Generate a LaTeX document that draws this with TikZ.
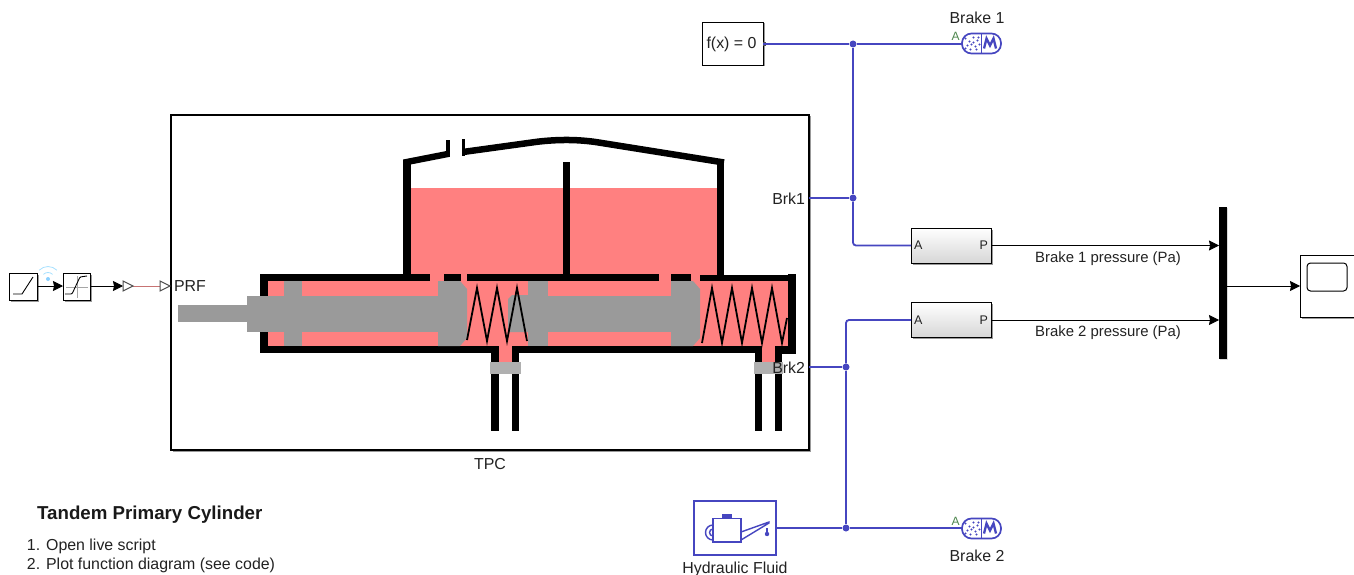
\documentclass[tikz,border=0pt]{standalone}
\usepackage{fontspec}
\setmainfont{Liberation Sans}
\usetikzlibrary{arrows.meta,shadows,calc}
\definecolor{wirec}{HTML}{4646C0}
\definecolor{fluidc}{HTML}{FF8080}
\definecolor{greyc}{HTML}{9A9A9A}
\definecolor{capc}{HTML}{B0B0B0}
\definecolor{labelc}{HTML}{222222}
\tikzset{
  x=1pt,y=-1pt,
  lbl/.style={text=labelc,font=\fontsize{15.9}{18}\selectfont,inner sep=0pt,outer sep=0pt},
  sigl/.style={text=labelc,font=\fontsize{14.9}{17}\selectfont,inner sep=0pt,outer sep=0pt},
  blk/.style={draw=black,fill=white,line width=.9pt,inner sep=0pt,outer sep=0pt,
     drop shadow={shadow xshift=1.5pt,shadow yshift=-1.5pt,opacity=.4,fill=black}},
  sensor/.style={blk,top color=white,bottom color=black!16},
  wire/.style={draw=wirec,line width=1.8pt,rounded corners=3pt},
  sig/.style={draw=black,line width=.9pt,-{Stealth[length=10pt,width=10pt,inset=1pt]}},
  jdot/.style={circle,fill=wirec,inner sep=0pt,minimum size=7pt},
  wallc/.style={fill=black,draw=none},
  fluid/.style={fill=fluidc,draw=none},
  grey/.style={fill=greyc,draw=none},
  spring/.style={draw=black,line width=1.8pt,line join=miter},
  pill/.style={draw=wirec,fill=white,line width=1.7pt,rounded corners=9.5pt,inner sep=0pt,outer sep=0pt,minimum width=39pt,minimum height=20pt},
  opentri/.style={draw=black!70,fill=white,line width=1pt},
  brakeicon/.pic={
    \draw[wirec,line width=1.6pt] (0,-9.5) -- (0,9.5);
    \draw[wirec,line width=2.3pt,line join=miter] (2.5,5) -- (5,-5) -- (8.5,2) -- (12,-5) -- (14.5,5);
    \foreach \a/\b in {-16/-5,-12/-2,-8/-6,-4/-3,-14/2,-10/1,-6/3,-2/1,-16/5,-11/6,-5/6,-8/-1,-3/-6}
      \fill[wirec] (\a,\b) circle (1.05pt);
  }
}
\begin{document}
\begin{tikzpicture}
\useasboundingbox (0,0) rectangle (1354,575);

% TPC block
\node[blk,minimum width=638pt,minimum height=335pt,line width=1.7pt] (tpc) at (490,282.5) {};

% reservoir fluid
\fill[fluid] (411,188) rectangle (717,275);
% cylinder fluid
\fill[fluid] (268,281) rectangle (788,346);
\fill[fluid] (430,274) rectangle (444,282);
\fill[fluid] (461,274) rectangle (467,282);
\fill[fluid] (659,274) rectangle (671,282);
\fill[fluid] (691,274) rectangle (700,282);
\fill[fluid] (499,346) rectangle (512,362);
\fill[fluid] (762,346) rectangle (775,362);

% reservoir walls
\fill[wallc] (403,161) rectangle (411,275);
\fill[wallc] (717,161) rectangle (724,275);
\fill[wallc] (563,162) rectangle (570,275);
\fill[wallc] (403,159.5) -- (449,150.5) -- (449,157) -- (403,166) -- cycle;
\fill[wallc] (446,140) rectangle (450,157);
\fill[wallc] (462,139) rectangle (465,156);
\draw[black,line width=6.5pt,line join=round,rounded corners=14pt] (463,152) -- (550,140) -- (583,140) -- (724,162.5);

% cylinder walls
\fill[wallc] (260,274) rectangle (430,281);
\fill[wallc] (444,274) rectangle (461,281);
\fill[wallc] (467,274) rectangle (659,281);
\fill[wallc] (671,274) rectangle (691,281);
\fill[wallc] (700,275) rectangle (788,281);
\fill[wallc] (788,274) rectangle (796,354);
\fill[wallc] (260,274) rectangle (268,353);
\fill[wallc] (260,346) rectangle (499,353);
\fill[wallc] (512,346) rectangle (762,353);
\fill[wallc] (775,346) rectangle (796,354);

% pistons
\fill[grey] (178,305) rectangle (247,322);
\fill[grey] (247,296) rectangle (440,332);
\fill[grey] (284,281) rectangle (302,346);
\fill[grey] (438,281) -- (460,281) -- (467,289) -- (467,338) -- (460,346) -- (438,346) -- cycle;
\fill[grey] (508,299) -- (512,295) -- (530,295) -- (530,332) -- (508,332) -- cycle;
\fill[grey] (528,281) rectangle (548,346);
\fill[grey] (548,296) rectangle (672,332);
\fill[grey] (671,281) -- (693,281) -- (700,289) -- (700,338) -- (693,346) -- (671,346) -- cycle;

% springs
\draw[spring] (467,340) -- (477,288) -- (487,341) -- (497,288) -- (507,341) -- (517,288) -- (527,341);
\draw[spring] (702,343) -- (712,288) -- (722,343) -- (732,288) -- (742,343) -- (752,288) -- (762,343) -- (772,288) -- (782,343) -- (787,318);

% ports
\fill[wallc] (491,353) rectangle (499,431);
\fill[wallc] (512,353) rectangle (519,431);
\fill[wallc] (755,353) rectangle (762,431);
\fill[wallc] (775,353) rectangle (782,431);
\fill[capc] (490,362) rectangle (521,374);
\fill[capc] (754,362) rectangle (783,374);

% port labels of TPC
\node[lbl,anchor=west] (prf) at (174,286) {PRF};
\node[lbl,anchor=east] (brk1) at (805,198.5) {Brk1};
\node[lbl,anchor=east] (brk2) at (805,367.5) {Brk2};
\node[lbl] (tpclbl) at (490,464) {TPC};

% input chain
\node[blk,minimum width=28pt,minimum height=27pt] (ramp) at (23,286.5) {};
\node[blk,minimum width=27pt,minimum height=27pt] (sat) at (76.5,286.5) {};
\draw[black,line width=.9pt] (13,294) -- (22,294) -- (33,277);
\draw[black!35,line width=.7pt] (66,287) -- (88,287) (77,276) -- (77,298);
\draw[black,line width=.9pt,rounded corners=1pt] (65,294) -- (72,294) -- (80,277) -- (87,276);
\fill[blue!40!cyan!45] (48,279) circle (2pt);
\draw[blue!35!cyan!35,line width=.8pt] (43.4,274.4) arc (225:315:6.5);
\draw[blue!35!cyan!35,line width=.8pt] (39.2,270.2) arc (225:315:12.5);
\coordinate (g1) at (123,286);
\coordinate (g2) at (133,286);
\coordinate (f1) at (160,286);
\coordinate (f2) at (170,286);
\draw[sig] (ramp.east |- 0,286) -- (sat.west |- 0,286);
\draw[sig] (sat.east |- 0,286) -- (g1);
\draw[draw=red!60!black!55,line width=1pt] (g2) -- (f1);
\draw[opentri] (123,281) -- (133,286) -- (123,291) -- cycle;
\draw[opentri] (160,281) -- (170,286) -- (160,291) -- cycle;

% solver
\node[blk,minimum width=61pt,minimum height=43pt] (fx) at (732.5,43.5) {};
\node[lbl] (fxt) at (731.5,44) {f(x) = 0};
\fill[black!70] (763,42) rectangle (766,46);

% brakes
\node[pill] (b1) at (981.5,43.5) {};
\node[lbl] (b1t) at (977,17.5) {Brake 1};
\node[lbl,text=black!45!green!40!gray,font=\fontsize{12}{14}\selectfont] (b1a) at (955.5,36.5) {A};
\path (b1) pic {brakeicon};
\node[pill] (b2) at (981.5,528.5) {};
\node[lbl] (b2t) at (977,555.5) {Brake 2};
\node[lbl,text=black!45!green!40!gray,font=\fontsize{12}{14}\selectfont] (b2a) at (955.5,521) {A};
\path (b2) pic {brakeicon};

% sensors
\node[sensor,minimum width=80pt,minimum height=35pt] (p1) at (951,245.5) {};
\node[sensor,minimum width=80pt,minimum height=35pt] (p2) at (951,320) {};
\node[lbl,font=\fontsize{12.5}{14}\selectfont,anchor=west] (p1a) at (914,245.5) {A};
\node[lbl,font=\fontsize{12.5}{14}\selectfont,anchor=east] (p1p) at (988,245.5) {P};
\node[lbl,font=\fontsize{12.5}{14}\selectfont,anchor=west] (p2a) at (914,320) {A};
\node[lbl,font=\fontsize{12.5}{14}\selectfont,anchor=east] (p2p) at (988,320) {P};

% hydraulic fluid
\node[draw=wirec,fill=white,line width=1.7pt,minimum width=82pt,minimum height=54pt,inner sep=0pt,outer sep=0pt] (hf) at (735,528) {};
\node[lbl] (hft) at (735,569.5) {Hydraulic Fluid};
\draw[wirec,line width=1.4pt] (713,518.5) rectangle (741,542);
\fill[wirec] (722,513.5) rectangle (732,518);
\draw[wirec,line width=1.4pt] (713,525) arc (270:90:7.5);
\draw[wirec,line width=1.4pt] (713,529) arc (270:90:3.5);
\draw[wirec,line width=1.4pt] (741,532) -- (769,522) -- (769,523) -- (741,540);
\fill[wirec] (767,534) circle (2.2pt);
\fill[wirec] (766,528) rectangle (768,534);

% junctions
\node[jdot] (j1) at (853,44) {};
\node[jdot] (j2) at (853,198) {};
\node[jdot] (j3) at (846,367) {};
\node[jdot] (j4) at (846,528) {};

% physical connections
\draw[wire] (fx.east |- j1) -- (j1);
\draw[wire] (j1) -- (b1.west |- j1);
\draw[wire] (j1) -- (j2);
\draw[wire] (tpc.east |- j2) -- (j2);
\draw[wire] (j2) |- (p1.west);
\draw[wire] (tpc.east |- j3) -- (j3);
\draw[wire] (j3) |- (p2.west);
\draw[wire] (j3) -- (j4);
\draw[wire] (hf.east |- j4) -- (j4);
\draw[wire] (j4) -- (b2.west |- j4);

% mux and scope
\node[fill=black,draw=none,inner sep=0pt,outer sep=0pt,minimum width=8pt,minimum height=152pt,
  drop shadow={shadow xshift=1pt,shadow yshift=-1pt,opacity=.3}] (mux) at (1223,283) {};
\node[blk,minimum width=54pt,minimum height=62pt] (scope) at (1327,286) {};
\draw[black,line width=1pt,rounded corners=3.5pt] (1307,263) rectangle (1347,291);
\draw[sig] (p1.east) -- (p1.east -| mux.west);
\draw[sig] (p2.east) -- (p2.east -| mux.west);
\draw[sig] (scope.west -| mux.east) -- (scope.west);
\node[sigl] (l1) at (1108,259) {Brake 1 pressure (Pa)};
\node[sigl] (l2) at (1108,333) {Brake 2 pressure (Pa)};

% annotation
\node[anchor=west,inner sep=0pt,text=black!90,font=\fontsize{18.7}{21}\selectfont\bfseries] (title) at (37,515) {Tandem Primary Cylinder};
\node[lbl,anchor=west] (li1) at (27,546) {1. Open live script};
\node[lbl,anchor=west] (li2) at (27,565) {2. Plot function diagram (see code)};
\end{tikzpicture}
\end{document}
